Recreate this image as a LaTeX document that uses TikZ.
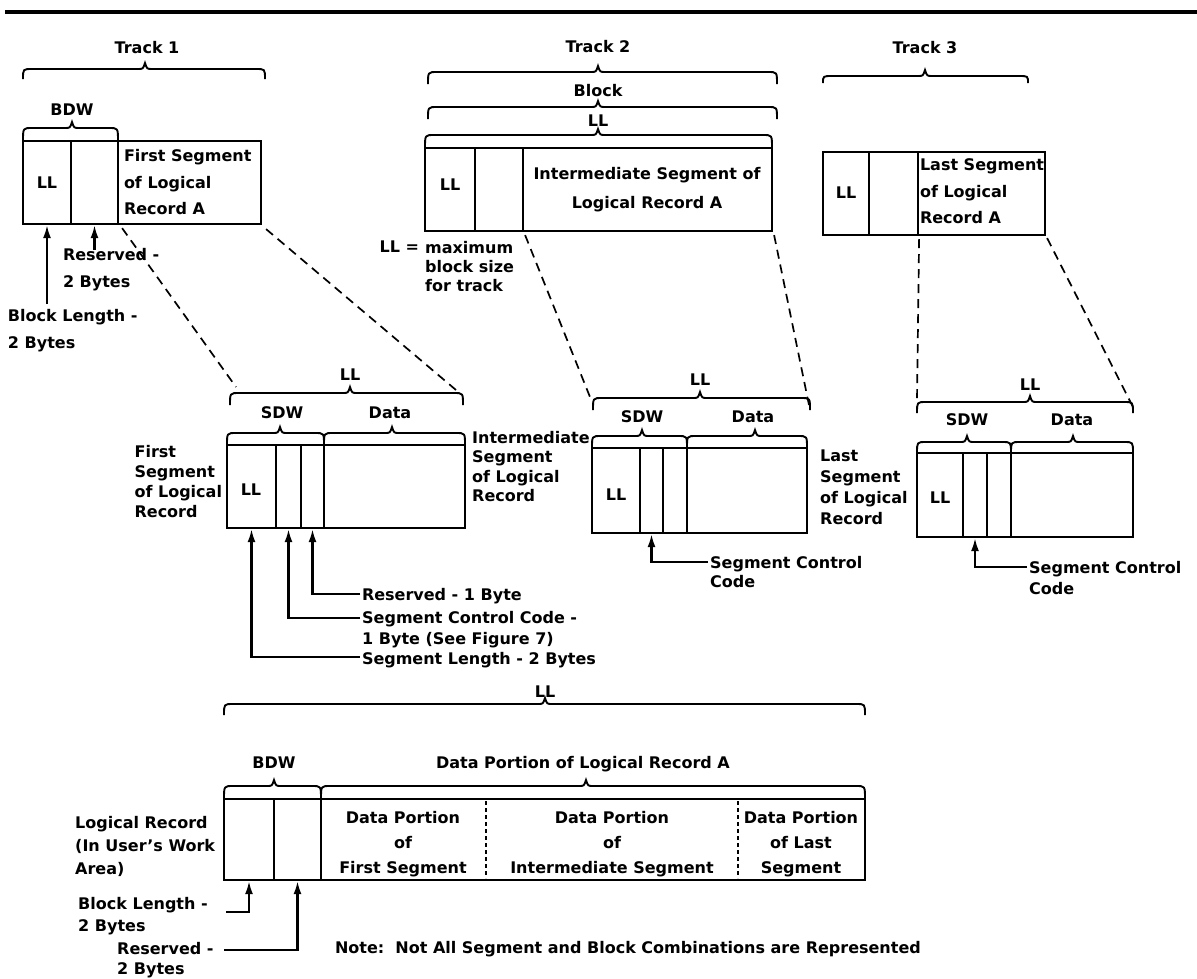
\documentclass[tikz,border=0pt]{standalone}
\usepackage{fontspec}
\setmainfont{DejaVu Sans}
\usetikzlibrary{arrows.meta,fit}
\newcommand\tst{\rule{0pt}{12.5pt}}
\newcommand\mybrace[5]{\draw[brc] (#1,#3) .. controls (#1,#4) .. ({#1+9},#4) -- ({#5-7},#4) .. controls ({#5-2},#4) .. (#5,{#4-6}) .. controls ({#5+2},#4) .. ({#5+7},#4) -- ({#2-9},#4) .. controls (#2,#4) .. (#2,#3);}
\tikzset{
  txt/.style={font=\bfseries\fontsize{16}{20}\selectfont, inner sep=0pt, outer sep=0pt, align=left},
  boxt/.style={font=\bfseries\fontsize{16}{26.5}\selectfont, inner sep=0pt, outer sep=0pt, align=left},
  cell/.style={draw, line width=2.2pt, inner sep=0pt},
  brc/.style={line width=1.9pt},
  dsh/.style={line width=1.7pt, dash pattern=on 9pt off 6pt},
  dsh2/.style={line width=1.3pt, dash pattern=on 4pt off 3pt},
  arr/.style={line width=2.2pt, -{Latex[length=13pt,width=8pt]}},
}
\begin{document}
\begin{tikzpicture}[x=1pt,y=-1pt]
\useasboundingbox (0,0) rectangle (1197,978);
\draw[line width=3.5pt] (5,12) -- (1197,12);

% ---------------- Track 1
\node[txt, anchor=north] (tr1) at (147,48-6.7) {\tst Track 1};
\mybrace{23}{265}{79}{69}{145}
\node[txt, anchor=north] (bdw1) at (72,110-6.7) {\tst BDW};
\mybrace{23}{118}{141}{128}{72}
\node[cell, fit={(23,141) (71,224)}] (c1ll) {};
\node[cell, fit={(71,141) (118,224)}] (c1rs) {};
\node[cell, fit={(118,141) (261,224)}] (c1dt) {};
\node[txt, anchor=north] (c1lltx) at (47,183-6.7) {\tst LL};
\node[boxt, anchor=north west] (c1dttx) at (124,156-6.7) {\tst First Segment\\of Logical\\Record A};
\node[boxt, anchor=north west] (t1res) at (63,255-6.7) {\tst Reserved -\\2 Bytes};
\node[boxt, anchor=north west] (t1blk) at (8,316-6.7) {\tst Block Length -\\2 Bytes};
\coordinate (a1) at (47,304);
\coordinate (a2) at (94.5,250);
\draw[arr] (a1) -- (c1ll.south);
\draw[arr] (a2) -- (c1rs.south);

% ---------------- Track 2
\node[txt, anchor=north] (tr2) at (598,47-6.7) {\tst Track 2};
\mybrace{428}{777}{84}{72}{598}
\node[txt, anchor=north] (blk) at (598,91-6.7) {\tst Block};
\mybrace{428}{777}{119}{107}{598}
\node[txt, anchor=north] (ll2) at (598,121-6.7) {\tst LL};
\mybrace{425}{772}{148}{135}{598}
\node[cell, fit={(425,148) (475,231)}] (c2ll) {};
\node[cell, fit={(475,148) (523,231)}] (c2rs) {};
\node[cell, fit={(523,148) (772,231)}] (c2dt) {};
\node[txt, anchor=north] (c2lltx) at (450,185-6.7) {\tst LL};
\node[font=\bfseries\fontsize{16}{29}\selectfont, inner sep=0pt, align=center, anchor=north] (c2dttx) at (647,173-6.7) {\tst Intermediate Segment of\\Logical Record A};
\node[txt, anchor=north east] (lleq) at (419,247-6.7) {\tst LL =};
\node[font=\bfseries\fontsize{16}{19}\selectfont, inner sep=0pt, align=left, anchor=north west] (maxb) at (425,247-6.7) {\tst maximum\\block size\\for track};

% ---------------- Track 3
\node[txt, anchor=north] (tr3) at (925,48-6.7) {\tst Track 3};
\mybrace{823}{1028}{83}{76}{925}
\node[cell, fit={(823,152) (869,235)}] (c3ll) {};
\node[cell, fit={(869,152) (918,235)}] (c3rs) {};
\node[cell, fit={(918,152) (1045,235)}] (c3dt) {};
\node[txt, anchor=north] (c3lltx) at (846,193-6.7) {\tst LL};
\node[boxt, anchor=north west] (c3dttx) at (920,165-6.7) {\tst Last Segment\\of Logical\\Record A};

% ---------------- First segment (middle left)
\node[txt, anchor=north] (m1LL) at (350,375-6.7) {\tst LL};
\mybrace{230}{463}{405}{393}{350}
\node[txt, anchor=north] (m1sdw) at (282,413-6.7) {\tst SDW};
\node[txt, anchor=north] (m1dat) at (390,413-6.7) {\tst Data};
\mybrace{227}{324}{445}{433}{280}
\mybrace{324}{465}{445}{433}{392}
\node[cell, fit={(227,445) (276,528)}] (m1ll) {};
\node[cell, fit={(276,445) (301,528)}] (m1sc) {};
\node[cell, fit={(301,445) (324,528)}] (m1rs) {};
\node[cell, fit={(324,445) (465,528)}] (m1dt) {};
\node[txt, anchor=north] (m1lltx) at (251,490-6.7) {\tst LL};
\node[txt, anchor=north east] (m1lab) at (222,452-6.7) {\tst First\\Segment\\of Logical\\Record};
\coordinate (m1r) at (360,594);
\coordinate (m1s) at (360,618);
\coordinate (m1l) at (360,657);
\draw[arr] (m1r) -| (m1rs.south);
\draw[arr] (m1s) -| (m1sc.south);
\draw[arr] (m1l) -| (m1ll.south);
\node[txt, anchor=north west] (m1rtx) at (362,595-6.7) {\tst Reserved - 1 Byte};
\node[font=\bfseries\fontsize{16}{21}\selectfont, inner sep=0pt, align=left, anchor=north west] (m1stx) at (362,617-6.7) {\tst Segment Control Code -\\1 Byte (See Figure 7)};
\node[txt, anchor=north west] (m1ltx) at (362,659-6.7) {\tst Segment Length - 2 Bytes};

% ---------------- Intermediate segment
\node[txt, anchor=north] (m2LL) at (700,380-6.7) {\tst LL};
\mybrace{593}{810}{410}{398}{700}
\node[txt, anchor=north] (m2sdw) at (642,417-6.7) {\tst SDW};
\node[txt, anchor=north] (m2dat) at (753,417-6.7) {\tst Data};
\mybrace{592}{687}{448}{436}{642}
\mybrace{687}{807}{448}{436}{755}
\node[cell, fit={(592,448) (640,533)}] (m2ll) {};
\node[cell, fit={(640,448) (663,533)}] (m2sc) {};
\node[cell, fit={(663,448) (687,533)}] (m2rs) {};
\node[cell, fit={(687,448) (807,533)}] (m2dt) {};
\node[txt, anchor=north] (m2lltx) at (616,495-6.7) {\tst LL};
\node[font=\bfseries\fontsize{16}{19.5}\selectfont, inner sep=0pt, align=left, anchor=north west] (m2lab) at (472,437-6.7) {\tst Intermediate\\Segment\\of Logical\\Record};
\coordinate (m2c) at (708,562);
\draw[arr] (m2c) -| (m2sc.south);
\node[font=\bfseries\fontsize{16}{19}\selectfont, inner sep=0pt, align=left, anchor=north west] (m2ctx) at (710,562-6.7) {\tst Segment Control\\Code};

% ---------------- Last segment
\node[txt, anchor=north] (m3LL) at (1030,385-6.7) {\tst LL};
\mybrace{917}{1133}{413}{402}{1030}
\node[txt, anchor=north] (m3sdw) at (967,420-6.7) {\tst SDW};
\node[txt, anchor=north] (m3dat) at (1072,420-6.7) {\tst Data};
\mybrace{917}{1011}{453}{442}{967}
\mybrace{1011}{1133}{453}{442}{1073}
\node[cell, fit={(917,453) (963,537)}] (m3ll) {};
\node[cell, fit={(963,453) (987,537)}] (m3sc) {};
\node[cell, fit={(987,453) (1011,537)}] (m3rs) {};
\node[cell, fit={(1011,453) (1133,537)}] (m3dt) {};
\node[txt, anchor=north] (m3lltx) at (940,498-6.7) {\tst LL};
\node[font=\bfseries\fontsize{16}{21}\selectfont, inner sep=0pt, align=left, anchor=north west] (m3lab) at (820,455-6.7) {\tst Last\\Segment\\of Logical\\Record};
\coordinate (m3c) at (1027,567);
\draw[arr] (m3c) -| (m3sc.south);
\node[font=\bfseries\fontsize{16}{21}\selectfont, inner sep=0pt, align=left, anchor=north west] (m3ctx) at (1029,567-6.7) {\tst Segment Control\\Code};

% ---------------- dashed projections
\coordinate (d1a) at (236,387);
\coordinate (d1b) at (456,390);
\coordinate (d2a) at (590,397);
\coordinate (d2b) at (809,405);
\coordinate (d3a) at (917,400);
\coordinate (d3b) at (1133,407);
\draw[dsh] ([shift={(3pt,-3pt)}]c1rs.south east) -- (d1a);
\draw[dsh] ([shift={(4pt,-4pt)}]c1dt.south east) -- (d1b);
\draw[dsh] ([shift={(1pt,-3pt)}]c2rs.south east) -- (d2a);
\draw[dsh] ([shift={(1pt,-3pt)}]c2dt.south east) -- (d2b);
\draw[dsh] ([shift={(0pt,-3pt)}]c3rs.south east) -- (d3a);
\draw[dsh] ([shift={(1pt,-2pt)}]c3dt.south east) -- (d3b);

% ---------------- Logical record in user's work area
\node[txt, anchor=north] (bLL) at (545,692-6.7) {\tst LL};
\mybrace{224}{865}{715}{704}{545}
\node[txt, anchor=north] (bbdw) at (274,763-6.7) {\tst BDW};
\node[txt, anchor=north] (bdp) at (583,763-6.7) {\tst Data Portion of Logical Record A};
\mybrace{224}{321}{799}{786}{274}
\mybrace{321}{865}{799}{786}{586}
\node[cell, fit={(224,799) (274,880)}] (bll) {};
\node[cell, fit={(274,799) (321,880)}] (brs) {};
\node[cell, fit={(321,799) (865,880)}] (bdt) {};
\draw[dsh2] (486,801) -- (486,878);
\draw[dsh2] (738,801) -- (738,878);
\node[font=\bfseries\fontsize{16}{25}\selectfont, inner sep=0pt, align=center, anchor=north] (bc1) at (403,817-6.7) {\tst Data Portion\\of\\First Segment};
\node[font=\bfseries\fontsize{16}{25}\selectfont, inner sep=0pt, align=center, anchor=north] (bc2) at (612,817-6.7) {\tst Data Portion\\of\\Intermediate Segment};
\node[font=\bfseries\fontsize{16}{25}\selectfont, inner sep=0pt, align=center, anchor=north] (bc3) at (801,817-6.7) {\tst Data Portion\\of Last\\Segment};
\node[font=\bfseries\fontsize{16}{23}\selectfont, inner sep=0pt, align=left, anchor=north west] (blab) at (75,822-6.7) {\tst Logical Record\\(In User's Work\\Area)};
\coordinate (ba1) at (226,912);
\coordinate (ba2) at (224,950);
\draw[arr] (ba1) -| (bll.south);
\draw[arr] (ba2) -| (brs.south);
\node[font=\bfseries\fontsize{16}{22}\selectfont, inner sep=0pt, align=left, anchor=north west] (bblk) at (78,903-6.7) {\tst Block Length -\\2 Bytes};
\node[font=\bfseries\fontsize{16}{20}\selectfont, inner sep=0pt, align=left, anchor=north west] (bres) at (117,948-6.7) {\tst Reserved -\\2 Bytes};
\node[txt, anchor=north west] (note) at (335,948-6.7) {\tst Note:\ \ Not All Segment and Block Combinations are Represented};
\end{tikzpicture}
\end{document}
